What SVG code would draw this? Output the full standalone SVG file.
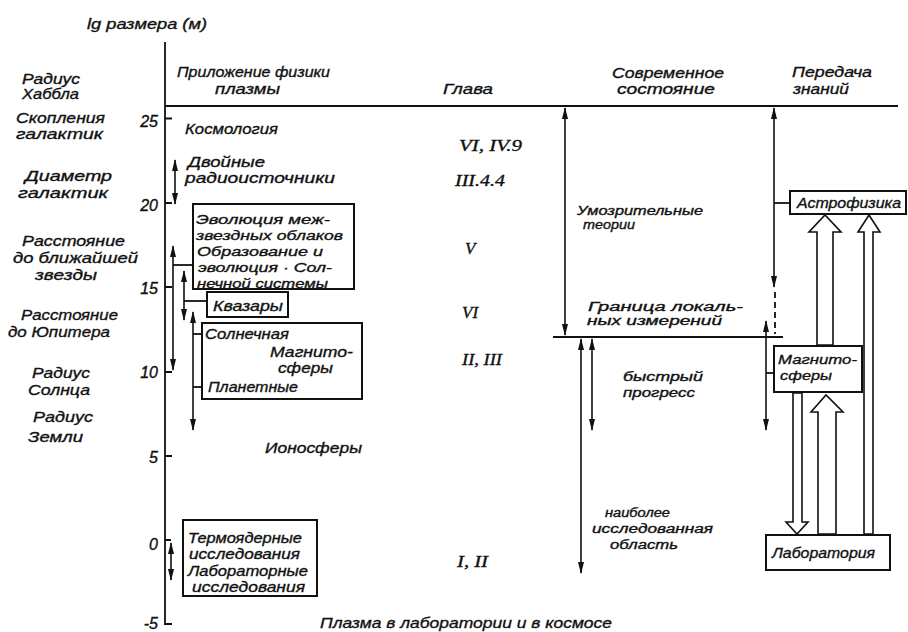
<svg xmlns="http://www.w3.org/2000/svg" width="908" height="632" viewBox="0 0 908 632">
<style>
text{font-family:"Liberation Sans","DejaVu Sans",sans-serif;font-style:italic;font-size:15px;fill:#111;stroke:#111;stroke-width:0.35}
.sm{font-size:12.5px}
.lb{font-size:14px}
.bx{font-size:13.5px}
.num{font-size:16px;text-anchor:end}
.ch{font-family:"Liberation Serif","DejaVu Serif",serif;font-size:17px}
.ln{stroke:#111;stroke-width:1.8;fill:none}
.box{stroke:#111;stroke-width:2;fill:#fff}
.ar{stroke:#111;stroke-width:1.6;fill:none;marker-start:url(#ah);marker-end:url(#ah)}
.ha{stroke:#111;stroke-width:1.6;fill:#fff;stroke-linejoin:miter}
</style>
<defs>
<marker id="ah" viewBox="0 0 12 6" refX="11" refY="3" markerWidth="12" markerHeight="6" markerUnits="userSpaceOnUse" orient="auto-start-reverse">
<path d="M0,0 L12,3 L0,6 z" fill="#111"/>
</marker>
</defs>
<rect width="908" height="632" fill="#fff"/>

<g id="axis">
<line class="ln" x1="165" y1="42" x2="165" y2="625"/>
<path class="ln" d="M165,118.5h7M165,203h7M165,287h7M165,372h7M165,456h7M165,540h6M165,624h7"/>
<text x="87" y="29" textLength="120" lengthAdjust="spacingAndGlyphs">lg размера (м)</text>
<text class="num" x="158" y="127">25</text>
<text class="num" x="158" y="211">20</text>
<text class="num" x="158" y="294">15</text>
<text class="num" x="158" y="378">10</text>
<text class="num" x="158" y="463">5</text>
<text class="num" x="158" y="550">0</text>
<text class="num" x="158" y="629">-5</text>
</g>

<g id="scale-labels">
<text class="lb" x="22" y="84" textLength="58" lengthAdjust="spacingAndGlyphs">Радиус</text>
<text class="lb" x="22" y="99" textLength="57" lengthAdjust="spacingAndGlyphs">Хаббла</text>
<text x="16" y="123" textLength="89" lengthAdjust="spacingAndGlyphs">Скопления</text>
<text x="16" y="139" textLength="87" lengthAdjust="spacingAndGlyphs">галактик</text>
<text class="lb" x="25" y="181" textLength="87" lengthAdjust="spacingAndGlyphs">Диаметр</text>
<text x="18" y="198" textLength="90" lengthAdjust="spacingAndGlyphs">галактик</text>
<text x="22" y="246" textLength="103" lengthAdjust="spacingAndGlyphs">Расстояние</text>
<text x="13" y="263" textLength="125" lengthAdjust="spacingAndGlyphs">до ближайшей</text>
<text x="35" y="280" textLength="62" lengthAdjust="spacingAndGlyphs">звезды</text>
<text x="21" y="320" textLength="97" lengthAdjust="spacingAndGlyphs">Расстояние</text>
<text x="8" y="337" textLength="102" lengthAdjust="spacingAndGlyphs">до Юпитера</text>
<text x="32" y="378" textLength="58" lengthAdjust="spacingAndGlyphs">Радиус</text>
<text x="28" y="395" textLength="62" lengthAdjust="spacingAndGlyphs">Солнца</text>
<text x="33" y="422" textLength="60" lengthAdjust="spacingAndGlyphs">Радиус</text>
<text x="28" y="442" textLength="55" lengthAdjust="spacingAndGlyphs">Земли</text>
</g>

<g id="headers">
<line class="ln" x1="165" y1="106" x2="898" y2="106"/>
<text x="177" y="77" textLength="153" lengthAdjust="spacingAndGlyphs">Приложение физики</text>
<text x="215" y="94" textLength="65" lengthAdjust="spacingAndGlyphs">плазмы</text>
<text x="443" y="94" textLength="50" lengthAdjust="spacingAndGlyphs">Глава</text>
<text x="612" y="78" textLength="112" lengthAdjust="spacingAndGlyphs">Современное</text>
<text x="617" y="94" textLength="98" lengthAdjust="spacingAndGlyphs">состояние</text>
<text x="792" y="77" textLength="80" lengthAdjust="spacingAndGlyphs">Передача</text>
<text x="793" y="94" textLength="56" lengthAdjust="spacingAndGlyphs">знаний</text>
</g>

<g id="cosmology">
<text x="185" y="134" textLength="93" lengthAdjust="spacingAndGlyphs">Космология</text>
</g>
<g id="radio">
<text x="188" y="167" textLength="77" lengthAdjust="spacingAndGlyphs">Двойные</text>
<text x="185" y="183" textLength="150" lengthAdjust="spacingAndGlyphs">радиоисточники</text>
</g>
<g id="clouds">
<rect class="box" x="193" y="204" width="161" height="85"/>
<text class="bx" x="196" y="224" textLength="134" lengthAdjust="spacingAndGlyphs">Эволюция меж-</text>
<text class="bx" x="196" y="240" textLength="147" lengthAdjust="spacingAndGlyphs">звездных облаков</text>
<text class="bx" x="197" y="256" textLength="126" lengthAdjust="spacingAndGlyphs">Образование и</text>
<text class="bx" x="198" y="272" textLength="134" lengthAdjust="spacingAndGlyphs">эволюция · Сол-</text>
<text class="bx" x="197" y="288" textLength="131" lengthAdjust="spacingAndGlyphs">нечной системы</text>
</g>
<g id="quasars">
<rect class="box" x="207" y="292" width="81" height="25"/>
<text x="213" y="311" textLength="70" lengthAdjust="spacingAndGlyphs">Квазары</text>
</g>
<g id="magnetospheres-left">
<rect class="box" x="202" y="323" width="160" height="76"/>
<text x="205" y="339" textLength="84" lengthAdjust="spacingAndGlyphs">Солнечная</text>
<text x="270" y="357" textLength="83" lengthAdjust="spacingAndGlyphs">Магнито-</text>
<text x="278" y="373" textLength="55" lengthAdjust="spacingAndGlyphs">сферы</text>
<text x="208" y="392" textLength="90" lengthAdjust="spacingAndGlyphs">Планетные</text>
</g>
<g id="ionospheres">
<text x="265" y="453" textLength="97" lengthAdjust="spacingAndGlyphs">Ионосферы</text>
</g>
<g id="fusion">
<rect class="box" x="183" y="520" width="134" height="76"/>
<text x="188" y="543" textLength="114" lengthAdjust="spacingAndGlyphs">Термоядерные</text>
<text x="189" y="559" textLength="111" lengthAdjust="spacingAndGlyphs">исследования</text>
<text x="188" y="576" textLength="120" lengthAdjust="spacingAndGlyphs">Лабораторные</text>
<text x="192" y="592" textLength="113" lengthAdjust="spacingAndGlyphs">исследования</text>
</g>
<g id="caption">
<text x="320" y="628" textLength="292" lengthAdjust="spacingAndGlyphs">Плазма в лаборатории и в космосе</text>
</g>

<g id="chapters">
<text class="ch" x="459" y="151" textLength="63" lengthAdjust="spacingAndGlyphs">VI, IV.9</text>
<text class="ch" x="455" y="186" textLength="50" lengthAdjust="spacingAndGlyphs">III.4.4</text>
<text class="ch" x="465" y="254">V</text>
<text class="ch" x="462" y="318">VI</text>
<text class="ch" x="462" y="365" textLength="40" lengthAdjust="spacingAndGlyphs">II, III</text>
<text class="ch" x="457" y="567" textLength="31" lengthAdjust="spacingAndGlyphs">I, II</text>
</g>

<g id="state">
<line class="ln" x1="553" y1="337" x2="783" y2="337"/>
<text class="sm" x="577" y="215" textLength="126" lengthAdjust="spacingAndGlyphs">Умозрительные</text>
<text class="sm" x="583" y="229" textLength="52" lengthAdjust="spacingAndGlyphs">теории</text>
<text class="sm" x="588" y="311" textLength="155" lengthAdjust="spacingAndGlyphs">Граница локаль-</text>
<text class="sm" x="587" y="325" textLength="135" lengthAdjust="spacingAndGlyphs">ных измерений</text>
<text class="sm" x="623" y="381" textLength="80" lengthAdjust="spacingAndGlyphs">быстрый</text>
<text class="sm" x="623" y="397" textLength="72" lengthAdjust="spacingAndGlyphs">прогресс</text>
<text class="sm" x="605" y="517" textLength="65" lengthAdjust="spacingAndGlyphs">наиболее</text>
<text class="sm" x="592" y="533" textLength="121" lengthAdjust="spacingAndGlyphs">исследованная</text>
<text class="sm" x="610" y="549" textLength="68" lengthAdjust="spacingAndGlyphs">область</text>
</g>

<g id="astrophysics">
<rect class="box" x="790" y="191" width="116" height="23"/>
<text x="797" y="208" textLength="104" lengthAdjust="spacingAndGlyphs">Астрофизика</text>
</g>
<g id="magnetospheres-right">
<rect class="box" x="774" y="346" width="88" height="46"/>
<text class="bx" x="778" y="364" textLength="79" lengthAdjust="spacingAndGlyphs">Магнито-</text>
<text class="bx" x="780" y="380" textLength="52" lengthAdjust="spacingAndGlyphs">сферы</text>
</g>
<g id="laboratory">
<rect class="box" x="766" y="535" width="124" height="35"/>
<text x="772" y="558" textLength="103" lengthAdjust="spacingAndGlyphs">Лаборатория</text>
</g>

<g id="connectors">
<line class="ar" x1="175" y1="160" x2="175" y2="204"/>
<line class="ar" x1="173" y1="246" x2="173" y2="370"/>
<line class="ln" x1="173" y1="265" x2="193" y2="265"/>
<line class="ar" x1="184" y1="271" x2="184" y2="320"/>
<line class="ln" x1="184" y1="301" x2="207" y2="301"/>
<line class="ar" x1="193" y1="312" x2="193" y2="430"/>
<line class="ln" x1="193" y1="334" x2="202" y2="334"/>
<line class="ln" x1="193" y1="387" x2="202" y2="387"/>
<line class="ar" x1="171" y1="543" x2="171" y2="580"/>

<line class="ar" x1="565" y1="108" x2="565" y2="335"/>
<line class="ar" x1="774" y1="108" x2="774" y2="287"/>
<line class="ln" x1="775" y1="292" x2="775" y2="334" stroke-dasharray="6,4"/>
<line class="ln" x1="774" y1="203" x2="790" y2="203"/>
<line class="ar" x1="581" y1="339" x2="581" y2="573"/>
<line class="ar" x1="592" y1="339" x2="592" y2="430"/>
<line class="ar" x1="766" y1="321" x2="766" y2="430"/>
<line class="ln" x1="766" y1="373" x2="774" y2="373"/>

<polygon class="ha" points="817,345 817,232 809,232 825,215 841,232 833,232 833,345"/>
<polygon class="ha" points="864,534 864,232 858,232 869,215 880,232 873,232 873,534"/>
<polygon class="ha" points="793,393 793,522 786,522 797,534 808,522 802,522 802,393"/>
<polygon class="ha" points="818,534 818,412 811,412 826,395 843,412 836,412 836,534"/>
</g>
</svg>
